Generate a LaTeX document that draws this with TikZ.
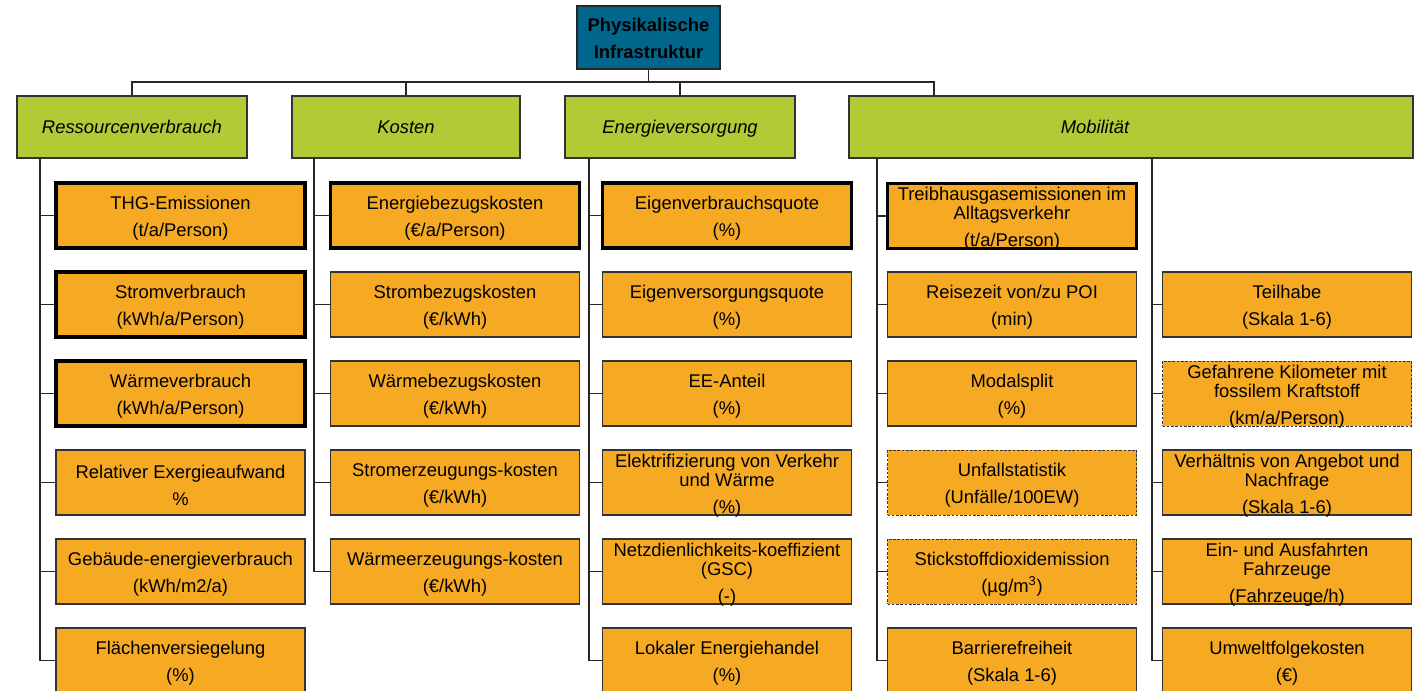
\documentclass[tikz,border=0pt]{standalone}
\usepackage{fontspec}
\setmainfont{Liberation Sans}
\definecolor{rootblue}{RGB}{0,102,140}
\definecolor{catgreen}{RGB}{176,203,53}
\definecolor{indorange}{RGB}{246,169,35}
% a box node plus its centred caption, set slightly below the geometric centre
\newcommand\indbox[4]{%
  \node[#1] (#2) at (#3) {};
  \node[txt] (#2t) at ([yshift=-2.25pt]#2.center) {#4};}
\begin{document}
\begin{tikzpicture}[x=0.75pt,y=-0.75pt,
  txt/.style={font=\fontsize{13.8}{20.25}\selectfont, align=center, text=black, inner sep=0pt},
  root/.style={draw=black!85, line width=0.9pt, fill=rootblue, inner sep=0pt, minimum width=107.25pt, minimum height=47.25pt},
  cat/.style={txt, draw=black!80, line width=0.8pt, fill=catgreen, font=\fontsize{13.8}{20.25}\selectfont\itshape, minimum height=46.5pt, text height=9.9pt, text depth=0pt},
  ind/.style={draw=black!80, line width=0.8pt, fill=indorange, inner sep=0pt, minimum width=186.75pt, minimum height=48.75pt},
  key/.style={ind, draw=black, line width=2.9pt},
  soft/.style={ind, draw=black!80, line width=0.7pt, dash pattern=on 2pt off 1.2pt},
  link/.style={draw=black!85, line width=1.1pt}]
\useasboundingbox (0,0) rectangle (1417,691);

% root and categories
\node[root] (top) at (648.5,37.5) {};
\node[txt, font=\fontsize{13.8}{20.25}\selectfont\bfseries] (topt) at ([yshift=-0.75pt]top.center) {Physikalische\\Infrastruktur};
\node[cat, minimum width=172.5pt] (g1) at (132,127) {Ressourcenverbrauch};
\node[cat, minimum width=171pt] (g2) at (406,127) {Kosten};
\node[cat, minimum width=172.5pt] (g3) at (680,127) {Energieversorgung};
\node[cat, minimum width=423pt] (g4) at (1131,127) {};
\node[txt, font=\fontsize{13.8}{20.25}\selectfont\itshape, text height=9.9pt, text depth=0pt] (g4label) at (1095,127) {Mobilität};

% bus from the root to the categories
\coordinate (bus) at (649,82);
\coordinate (mstem) at (934,96);
\draw[link] (top.south) -- (top.south |- bus);
\draw[link] (g1.north) |- (mstem |- bus) -- (mstem);
\draw[link] (g2.north) -- (g2.north |- bus);
\draw[link] (g3.north) -- (g3.north |- bus);

% trunk tops under the categories
\coordinate (t1) at (40,158);
\coordinate (t2) at (314,158);
\coordinate (t3) at (589,158);
\coordinate (t4) at (877,158);
\coordinate (t5) at (1152,158);

% Ressourcenverbrauch
\indbox{key}{a1}{180.5,215.5}{THG-Emissionen\\(t/a/Person)}
\indbox{key}{a2}{180.5,304.5}{Stromverbrauch\\(kWh/a/Person)}
\indbox{key}{a3}{180.5,393.5}{Wärmeverbrauch\\(kWh/a/Person)}
\indbox{ind}{a4}{180.5,482.5}{Relativer Exergieaufwand\\\%}
\indbox{ind}{a5}{180.5,571.5}{Gebäude-energieverbrauch\\(kWh/m2/a)}
\indbox{ind}{a6}{180.5,660.5}{Flächenversiegelung\\(\%)}

% Kosten
\indbox{key}{b1}{455,215.5}{Energiebezugskosten\\(€/a/Person)}
\indbox{ind}{b2}{455,304.5}{Strombezugskosten\\(€/kWh)}
\indbox{ind}{b3}{455,393.5}{Wärmebezugskosten\\(€/kWh)}
\indbox{ind}{b4}{455,482.5}{Stromerzeugungs-kosten\\(€/kWh)}
\indbox{ind}{b5}{455,571.5}{Wärmeerzeugungs-kosten\\(€/kWh)}

% Energieversorgung
\indbox{key}{c1}{727,215.5}{Eigenverbrauchsquote\\(\%)}
\indbox{ind}{c2}{727,304.5}{Eigenversorgungsquote\\(\%)}
\indbox{ind}{c3}{727,393.5}{EE-Anteil\\(\%)}
\indbox{ind}{c4}{727,482.5}{Elektrifizierung von Verkehr\\[-6pt]und Wärme\\(\%)}
\indbox{ind}{c5}{727,571.5}{Netzdienlichkeits-koeffizient\\[-6pt](GSC)\\(-)}
\indbox{ind}{c6}{727,660.5}{Lokaler Energiehandel\\(\%)}

% Mobilitaet, left column
\indbox{key}{d1}{1012,216}{Treibhausgasemissionen im\\[-6pt]Alltagsverkehr\\(t/a/Person)}
\indbox{ind}{d2}{1012,304.5}{Reisezeit von/zu POI\\(min)}
\indbox{ind}{d3}{1012,393.5}{Modalsplit\\(\%)}
\indbox{soft}{d4}{1012,482.5}{Unfallstatistik\\(Unfälle/100EW)}
\indbox{soft}{d5}{1012,571.5}{Stickstoffdioxidemission\\(µg/m\textsuperscript{3})}
\indbox{ind}{d6}{1012,660.5}{Barrierefreiheit\\(Skala 1-6)}

% Mobilitaet, right column
\indbox{ind}{e2}{1287,304.5}{Teilhabe\\(Skala 1-6)}
\indbox{soft}{e3}{1287,393.5}{Gefahrene Kilometer mit\\[-6pt]fossilem Kraftstoff\\(km/a/Person)}
\indbox{ind}{e4}{1287,482.5}{Verhältnis von Angebot und\\[-6pt]Nachfrage\\(Skala 1-6)}
\indbox{ind}{e5}{1287,571.5}{Ein- und Ausfahrten\\[-6pt]Fahrzeuge\\(Fahrzeuge/h)}
\indbox{ind}{e6}{1287,660.5}{Umweltfolgekosten\\(€)}

% connectors from the trunks to the indicators
\foreach \n in {a1,a2,a3,a4,a5,a6} \draw[link] (t1) |- (\n.west);
\foreach \n in {b1,b2,b3,b4,b5} \draw[link] (t2) |- (\n.west);
\foreach \n in {c1,c2,c3,c4,c5,c6} \draw[link] (t3) |- (\n.west);
\foreach \n in {d1,d2,d3,d4,d5,d6} \draw[link] (t4) |- (\n.west);
\foreach \n in {e2,e3,e4,e5,e6} \draw[link] (t5) |- (\n.west);
\end{tikzpicture}
\end{document}
